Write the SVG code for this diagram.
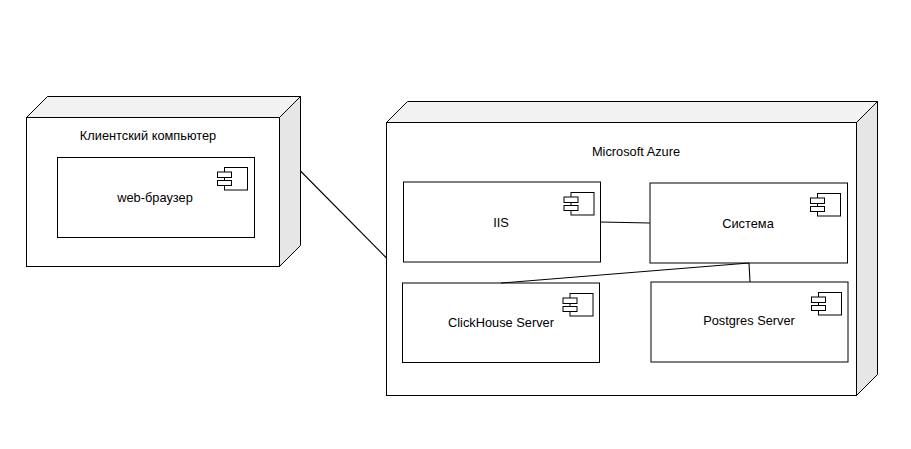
<svg xmlns="http://www.w3.org/2000/svg" width="911" height="449" viewBox="0 0 911 449">
<defs>
<style>
.b{fill:#fff;stroke:#000;stroke-width:1}
.t{fill:#f2f2f2;stroke:#000;stroke-width:1;stroke-linejoin:miter}
.s{fill:#e6e6e6;stroke:#000;stroke-width:1}
.c{fill:none;stroke:#000;stroke-width:1.100}
text{font-family:"Liberation Sans",Arial,sans-serif;font-size:12.800px;fill:#000;text-anchor:middle}
</style>
<g id="icon">
<rect class="b" x="7" y="-11" width="23" height="22.500"/>
<rect class="b" x="0" y="-6.500" width="14" height="5.500"/>
<rect class="b" x="0" y="2" width="14" height="5"/>
</g>
</defs>
<rect width="911" height="449" fill="#fff"/>
<g id="client">
<path class="t" d="M26.500 117.500L47.500 96.500H300.500L279.500 117.500Z"/>
<path class="s" d="M279.500 117.500L300.500 96.500V245.500L279.500 266.500Z"/>
<rect class="b" x="26.500" y="117.500" width="253" height="149"/>
<text x="148" y="140">Клиентский компьютер</text>
</g>
<g id="browser">
<rect class="b" x="57.500" y="157.500" width="197" height="80"/>
<use href="#icon" x="217.500" y="178.500"/>
<text x="155" y="202">web-браузер</text>
</g>
<g id="azure">
<path class="t" d="M386.500 122.500L407.500 101.500H877.500L856.500 122.500Z"/>
<path class="s" d="M856.500 122.500L877.500 101.500V374.500L856.500 395.500Z"/>
<rect class="b" x="386.500" y="122.500" width="470" height="273"/>
<text x="636" y="156">Microsoft Azure</text>
</g>
<g id="iis">
<rect class="b" x="403.500" y="182" width="197" height="80"/>
<use href="#icon" x="564" y="203.500"/>
<text x="501" y="227">IIS</text>
</g>
<g id="sistema">
<rect class="b" x="650" y="183" width="197.500" height="80"/>
<use href="#icon" x="810.500" y="204.500"/>
<text x="748" y="228">Система</text>
</g>
<g id="clickhouse">
<rect class="b" x="402.500" y="283" width="197" height="79.500"/>
<use href="#icon" x="563" y="304.500"/>
<text x="501" y="327">ClickHouse Server</text>
</g>
<g id="postgres">
<rect class="b" x="651" y="282" width="197" height="80"/>
<use href="#icon" x="811.500" y="303.500"/>
<text x="749" y="325">Postgres Server</text>
</g>
<g id="connectors">
<path class="c" d="M300.500 171L386.500 258"/>
<path class="c" d="M600.500 222L650 223"/>
<path class="c" d="M501 283L749 263"/>
<path class="c" d="M749 263L750 282"/>
</g>
</svg>
